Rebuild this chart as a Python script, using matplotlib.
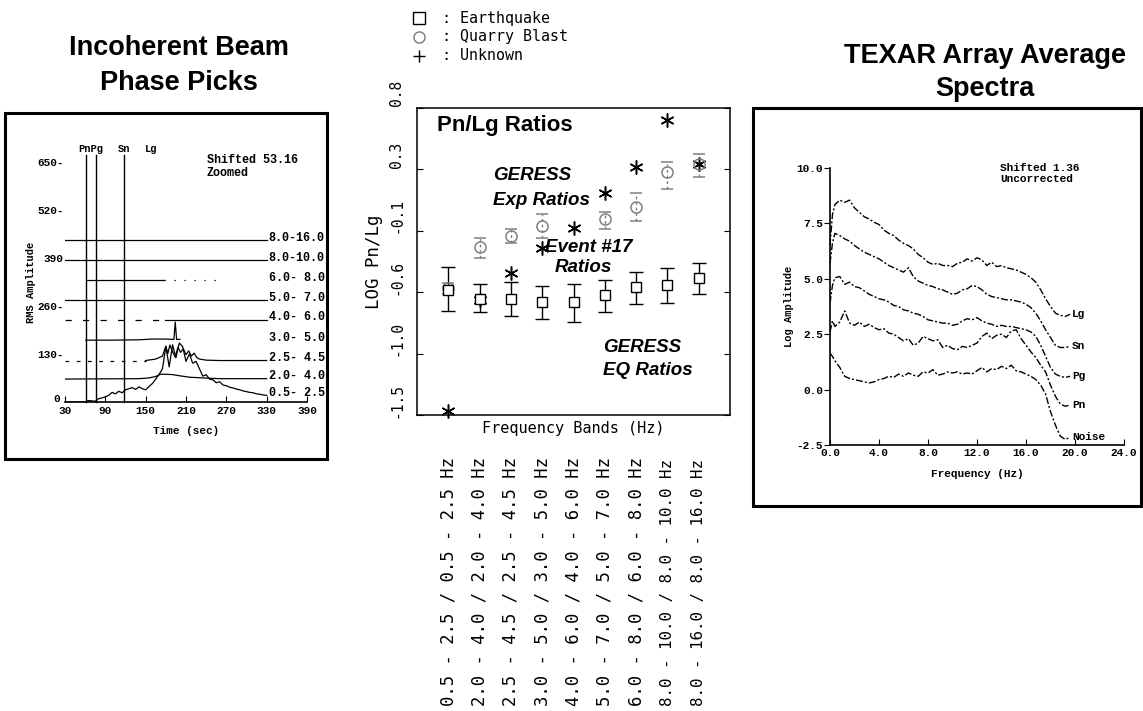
import matplotlib
matplotlib.use("Agg")
import matplotlib.pyplot as plt
from matplotlib.patches import Rectangle
from matplotlib.lines import Line2D
from matplotlib.transforms import ScaledTranslation, blended_transform_factory

# ---------------- data: left panel (incoherent beam) ----------------
SHIFT = 53.16
BAND_NAMES = ["0.5- 2.5", "2.0- 4.0", "2.5- 4.5", "3.0- 5.0", "4.0- 6.0",
              "5.0- 7.0", "6.0- 8.0", "8.0-10.0", "8.0-16.0"]
PICK_TIMES = [61, 76, 118]          # Pn, Pg, Sn
T_B05 = [30, 60, 65, 70, 75, 80, 85, 90, 95, 100,
         105, 110, 115, 120, 125, 130, 135, 140, 145, 150,
         155, 160, 165, 170, 175, 180, 185, 190, 195, 200,
         205, 210, 215, 220, 225, 230, 235, 240, 245, 250,
         255, 260, 265, 270, 275, 280, 285, 290, 295, 300,
         305, 310, 315, 320, 325, 330]
V_B05 = [0, 0, 4, 3, 2, 9, 11, 14, 18, 26,
         22, 29, 25, 33, 36, 39, 34, 41, 36, 33,
         42, 50, 62, 75, 90, 150, 95, 155, 120, 160,
         150, 110, 130, 105, 110, 90, 70, 74, 62, 60,
         52, 55, 46, 44, 40, 38, 35, 33, 30, 28,
         26, 25, 22, 21, 19, 18]
T_B20 = [30, 140, 155, 165, 172, 180, 190, 200, 215, 235, 260, 330]
V_B20 = [9, 10, 12, 16, 22, 22, 21, 18, 14, 12, 10, 10]
T_B25 = [150, 165, 175, 180, 183, 186, 190, 194, 198, 202,
         206, 210, 214, 218, 222, 226, 230, 240, 260, 330]
V_B25 = [6, 10, 18, 45, 25, 48, 30, 15, 42, 28,
         38, 22, 32, 18, 26, 14, 10, 7, 6, 6]
T_B30 = [61, 100, 140, 160, 180, 192, 194, 196, 201]
V_B30 = [8, 8, 9, 11, 11, 10, 57, 10, 10]
T_B40 = [179, 330]
V_B40 = [10, 10]
T_B50 = [30, 330]
V_B50 = [10, 10]
T_B60 = [61, 178]
V_B60 = [11, 11]
T_B80 = [30, 330]
V_B80 = [12, 12]
T_B816 = [30, 330]
V_B816 = [13, 13]

# ---------------- data: middle panel (Pn/Lg ratios) ----------------
BAND_POS = [1, 2, 3, 4, 5, 6, 7, 8, 9]
BAND_LABELS = ["0.5 - 2.5 / 0.5 - 2.5 Hz", "2.0 - 4.0 / 2.0 - 4.0 Hz",
               "2.5 - 4.5 / 2.5 - 4.5 Hz", "3.0 - 5.0 / 3.0 - 5.0 Hz",
               "4.0 - 6.0 / 4.0 - 6.0 Hz", "5.0 - 7.0 / 5.0 - 7.0 Hz",
               "6.0 - 8.0 / 6.0 - 8.0 Hz", "8.0 - 10.0 / 8.0 - 10.0 Hz",
               "8.0 - 16.0 / 8.0 - 16.0 Hz"]
EQ_MEAN = [-0.536, -0.598, -0.598, -0.623, -0.623, -0.573, -0.512, -0.499, -0.449]
EQ_LO = [-0.685, -0.697, -0.722, -0.747, -0.772, -0.697, -0.635, -0.630, -0.561]
EQ_HI = [-0.363, -0.487, -0.475, -0.507, -0.492, -0.462, -0.400, -0.371, -0.338]
QB_MEAN = [-0.52, -0.217, -0.14, -0.068, float("nan"), -0.017, 0.072, 0.33, 0.39]
QB_LO = [-0.56, -0.30, -0.19, -0.15, float("nan"), -0.09, -0.03, 0.21, 0.295]
QB_HI = [-0.48, -0.15, -0.09, 0.02, float("nan"), 0.035, 0.18, 0.406, 0.466]
EV17 = [-1.42, -0.61, -0.41, -0.225, -0.076, 0.18, 0.37, 0.71, 0.39]
Y_TICKS = [0.8, 0.35, -0.1, -0.55, -1.0, -1.45]
Y_TICKLABELS = ["0.8", "0.3", "-0.1", "-0.6", "-1.0", "-1.5"]

# ---------------- data: right panel (spectra) ----------------
FREQ = [0.0, 0.2, 0.4, 0.8, 1.2, 1.6, 2.0, 2.4, 2.8, 3.2,
        3.6, 4.0, 4.4, 4.8, 5.2, 5.6, 6.0, 6.4, 6.8, 7.2,
        7.6, 8.0, 8.4, 8.8, 9.2, 9.6, 10.0, 10.4, 10.8, 11.2,
        11.6, 12.0, 12.4, 12.8, 13.2, 13.6, 14.0, 14.4, 14.8, 15.2,
        15.6, 16.0, 16.4, 16.8, 17.2, 17.6, 18.0, 18.4, 18.8, 19.2,
        19.6]
LG = [6.5, 7.9, 8.35, 8.55, 8.45, 8.55, 8.2, 8.0, 7.8, 7.7,
      7.55, 7.45, 7.2, 7.05, 6.95, 6.75, 6.6, 6.5, 6.35, 6.1,
      5.95, 5.75, 5.65, 5.7, 5.6, 5.6, 5.55, 5.7, 5.75, 5.9,
      5.8, 5.95, 5.85, 5.6, 5.75, 5.55, 5.6, 5.5, 5.45, 5.4,
      5.3, 5.2, 5.05, 4.85, 4.5, 4.1, 3.75, 3.45, 3.35, 3.3,
      3.4]
SN = [5.7, 6.6, 7.05, 6.95, 6.8, 6.7, 6.5, 6.35, 6.2, 6.1,
      6.0, 5.9, 5.75, 5.6, 5.5, 5.4, 5.3, 5.5, 5.1, 4.9,
      4.8, 4.7, 4.65, 4.55, 4.5, 4.4, 4.3, 4.35, 4.5, 4.55,
      4.7, 4.65, 4.5, 4.3, 4.2, 4.15, 4.1, 4.05, 4.05, 4.0,
      3.95, 3.85, 3.7, 3.45, 3.1, 2.7, 2.35, 2.0, 1.9, 1.9,
      1.95]
PG = [3.9, 4.7, 5.05, 5.1, 4.75, 4.85, 4.65, 4.6, 4.45, 4.3,
      4.2, 4.1, 4.05, 3.95, 3.8, 3.75, 3.6, 3.55, 3.45, 3.4,
      3.3, 3.15, 3.1, 3.05, 3.0, 3.0, 2.9, 2.95, 3.1, 3.2,
      3.15, 3.25, 3.1, 3.0, 2.95, 2.85, 2.9, 2.85, 2.85, 2.8,
      2.75, 2.7, 2.6, 2.4, 2.0, 1.5, 1.0, 0.7, 0.6, 0.55,
      0.6]
PN = [2.6, 3.1, 2.85, 3.05, 3.55, 3.0, 2.9, 3.05, 2.85, 2.95,
      2.8, 2.7, 2.75, 2.55, 2.5, 2.35, 2.2, 2.3, 2.0, 2.1,
      2.4, 2.3, 2.2, 2.25, 1.9, 2.0, 1.85, 1.8, 1.95, 1.9,
      2.0, 2.1, 2.4, 2.55, 2.3, 2.45, 2.5, 2.35, 2.65, 2.7,
      2.3, 2.0, 1.7, 1.45, 1.1, 0.8, 0.2, -0.3, -0.65, -0.75,
      -0.7]
NOISE = [1.65, 1.5, 1.3, 1.0, 0.6, 0.5, 0.45, 0.4, 0.35, 0.3,
         0.35, 0.45, 0.5, 0.6, 0.55, 0.7, 0.6, 0.75, 0.65, 0.6,
         0.8, 0.75, 0.9, 0.65, 0.7, 0.8, 0.75, 0.8, 0.7, 0.75,
         0.7, 0.85, 1.0, 0.8, 0.95, 0.9, 1.05, 0.95, 1.1, 0.85,
         0.8, 0.7, 0.6, 0.45, 0.2, -0.2, -1.0, -1.6, -2.1, -2.25,
         -2.15]
SPEC_NAMES = ["Lg", "Sn", "Pg", "Pn", "Noise"]

# ---------------- figure ----------------
W, H = 1143, 711
fig = plt.figure(figsize=(W / 100, H / 100), dpi=100)


def fx(px):
    return px / W


def fy(py):
    return 1 - py / H


TYPE = dict(family="Liberation Mono", weight="bold")
PLOT = dict(family="DejaVu Sans Mono")
HEAD = dict(family="Liberation Sans", weight="bold")

# frames
for x0, y0, x1, y1 in [(5, 113, 327, 459), (753, 108, 1141, 506)]:
    fig.add_artist(Rectangle((fx(x0), fy(y1)), fx(x1) - fx(x0), fy(y0) - fy(y1),
                             transform=fig.transFigure, fill=False, lw=2.2,
                             ec="black"))

# titles
fig.text(fx(179), fy(48), "Incoherent Beam", ha="center", va="center", fontsize=19.5, **HEAD)
fig.text(fx(179), fy(83), "Phase Picks", ha="center", va="center", fontsize=19.5, **HEAD)
fig.text(fx(985), fy(56), "TEXAR Array Average", ha="center", va="center", fontsize=19.5, **HEAD)
fig.text(fx(985), fy(89), "Spectra", ha="center", va="center", fontsize=19.5, **HEAD)

# ---------------- left panel ----------------
axL = fig.add_axes([fx(65), fy(402), fx(307) - fx(65), fy(162) - fy(402)])
axL.set_xlim(30, 390)
axL.set_ylim(0, 650)
for s in ["top", "right", "left"]:
    axL.spines[s].set_visible(False)
axL.spines["bottom"].set_linewidth(1.2)
axL.set_xticks([30, 90, 150, 210, 270, 330, 390])
axL.set_xticklabels(["30", "90", "150", "210", "270", "330", "390"], fontsize=8, **TYPE)
axL.tick_params(axis="x", direction="in", length=4, pad=3)
axL.set_yticks([0, 130, 260, 390, 520, 650])
axL.set_yticklabels(["0", "130-", "260-", "390", "520-", "650-"], fontsize=8, **TYPE)
axL.tick_params(axis="y", length=0, pad=1)
zero_lab = axL.get_yticklabels()[0]
zero_lab.set_transform(zero_lab.get_transform() + ScaledTranslation(-0.04, 0.04, fig.dpi_scale_trans))
axL.set_xlabel("Time (sec)", fontsize=8, labelpad=7, **TYPE)
axL.set_ylabel("RMS Amplitude", fontsize=7.5, labelpad=1, **TYPE)

for t in PICK_TIMES:
    axL.plot([t, t], [0, 668], color="black", lw=1.0, clip_on=False)
axL.text(68, 672, "PnPg", ha="center", va="bottom", fontsize=7.5, clip_on=False, **TYPE)
axL.text(118, 672, "Sn", ha="center", va="bottom", fontsize=7.5, clip_on=False, **TYPE)
axL.text(158, 672, "Lg", ha="center", va="bottom", fontsize=7.5, clip_on=False, **TYPE)
axL.text(241, 638, "Shifted 53.16\nZoomed", ha="left", va="center", fontsize=8.5,
         linespacing=1.15, **TYPE)

solid_bands = [(T_B05, V_B05, 0), (T_B20, V_B20, 1), (T_B25, V_B25, 2), (T_B30, V_B30, 3),
               (T_B40, V_B40, 4), (T_B50, V_B50, 5), (T_B60, V_B60, 6), (T_B80, V_B80, 7),
               (T_B816, V_B816, 8)]
for ts, vs, k in solid_bands:
    axL.plot(ts, [v + k * SHIFT for v in vs], color="black", lw=0.9)
# sparse/dashed segments of some bands
axL.plot([30, 150], [6 + 2 * SHIFT] * 2, color="black", lw=0.9, ls=(0, (3, 6)))
axL.plot([30, 179], [10 + 4 * SHIFT] * 2, color="black", lw=0.9, ls=(0, (5, 9)))
axL.plot([178, 265], [11 + 6 * SHIFT] * 2, color="black", lw=0.9, ls=(0, (1, 7)))
label_vals = [V_B05[-1], V_B20[-1], V_B25[-1], V_B30[0], V_B40[-1], V_B50[-1], V_B60[0],
              V_B80[-1], V_B816[-1]]
for k, (name, v) in enumerate(zip(BAND_NAMES, label_vals)):
    axL.text(333, v + k * SHIFT + 7, name, ha="left", va="center", fontsize=8.5,
             clip_on=False, **TYPE)

# ---------------- middle panel ----------------
axM = fig.add_axes([fx(417), fy(415), fx(730) - fx(417), fy(108) - fy(415)])
axM.set_xlim(0, 10)
axM.set_ylim(-1.45, 0.8)
axM.set_xticks([])
axM.set_yticks(Y_TICKS)
axM.set_yticklabels(Y_TICKLABELS, rotation=90, va="center", fontsize=10.5, **PLOT)
axM.tick_params(axis="y", direction="in", length=4, left=True, right=True, pad=9)
for lab in axM.get_yticklabels():
    lab.set_transform(lab.get_transform() + ScaledTranslation(0, 0.15, fig.dpi_scale_trans))
for s in axM.spines.values():
    s.set_linewidth(1.1)
axM.set_ylabel("LOG Pn/Lg", fontsize=12.5, labelpad=5, **PLOT)
axM.set_xlabel("Frequency Bands (Hz)", fontsize=11, labelpad=4, **PLOT)

qerr = [[m - lo for m, lo in zip(QB_MEAN, QB_LO)], [hi - m for m, hi in zip(QB_MEAN, QB_HI)]]
eb = axM.errorbar(BAND_POS, QB_MEAN, yerr=qerr, fmt="o", ms=8, mfc="none", mec="#808080",
                  mew=1.1, ecolor="#808080", elinewidth=1.0, capsize=4.5, capthick=1.0)
for c in eb[2]:
    c.set_linestyle((0, (2, 2)))
eerr = [[m - lo for m, lo in zip(EQ_MEAN, EQ_LO)], [hi - m for m, hi in zip(EQ_MEAN, EQ_HI)]]
axM.errorbar(BAND_POS, EQ_MEAN, yerr=eerr, fmt="s", ms=7.5, mfc="white", mec="black",
             mew=1.0, ecolor="black", elinewidth=1.0, capsize=5, capthick=1.0)
axM.plot(BAND_POS, EV17, ls="none", marker=(6, 2, 0), ms=10, mew=1.1, color="black",
         clip_on=False)

tb = blended_transform_factory(axM.transData, fig.transFigure)
for p, lab in zip(BAND_POS, BAND_LABELS):
    axM.text(p, fy(706), lab, rotation=90, ha="center", va="bottom",
             fontsize=12.4 * 24 / len(lab), transform=tb, **PLOT)

BI = dict(family="Liberation Sans", weight="bold", style="italic")
fig.text(fx(437), fy(125), "Pn/Lg Ratios", ha="left", va="center", fontsize=16, **HEAD)
fig.text(fx(493), fy(175), "GERESS", ha="left", va="center", fontsize=13.5, **BI)
fig.text(fx(493), fy(200), "Exp Ratios", ha="left", va="center", fontsize=13.5, **BI)
fig.text(fx(545), fy(247), "Event #17", ha="left", va="center", fontsize=13.5, **BI)
fig.text(fx(555), fy(268), "Ratios", ha="left", va="center", fontsize=13.5, **BI)
fig.text(fx(603), fy(347), "GERESS", ha="left", va="center", fontsize=13.5, **BI)
fig.text(fx(603), fy(370), "EQ Ratios", ha="left", va="center", fontsize=13.5, **BI)

# legend (top)
leg_rows = [(18, "s", "black", "Earthquake"), (37, "o", "#777777", "Quarry Blast"),
            (56, "+", "black", "Unknown")]
for y, mk, col, name in leg_rows:
    fig.add_artist(Line2D([fx(419)], [fy(y)], transform=fig.transFigure, marker=mk,
                          ms=8, mfc="none", mec=col, mew=1.0, ls="none"))
    fig.text(fx(442), fy(y), ": " + name, ha="left", va="center", fontsize=10.8, **PLOT)

# ---------------- right panel ----------------
axR = fig.add_axes([fx(830), fy(445), fx(1124) - fx(830), fy(168) - fy(445)])
axR.set_xlim(0, 24)
axR.set_ylim(-2.5, 10)
axR.spines["top"].set_visible(False)
axR.spines["right"].set_visible(False)
axR.spines["left"].set_linewidth(1.2)
axR.spines["bottom"].set_linewidth(1.2)
axR.set_xticks([0, 4, 8, 12, 16, 20, 24])
axR.set_xticklabels(["0.0", "4.0", "8.0", "12.0", "16.0", "20.0", "24.0"], fontsize=8, **TYPE)
axR.tick_params(axis="x", direction="in", length=4, pad=2)
axR.set_yticks([-2.5, 0, 2.5, 5, 7.5, 10])
axR.set_yticklabels(["-2.5", "0.0", "2.5", "5.0", "7.5", "10.0"], fontsize=8, **TYPE)
axR.tick_params(axis="y", direction="out", length=4, pad=1)
axR.set_xlabel("Frequency (Hz)", fontsize=8, labelpad=8, **TYPE)
axR.set_ylabel("Log Amplitude", fontsize=7.5, labelpad=2, **TYPE)
for vals, name in zip([LG, SN, PG, PN, NOISE], SPEC_NAMES):
    axR.plot(FREQ, vals, color="black", lw=1.0, ls=(0, (5, 1.5, 1.5, 1.5)))
    axR.text(FREQ[-1] + 0.15, vals[-1], name, ha="left", va="center", fontsize=8,
             clip_on=False, **TYPE)
axR.text(13.9, 9.75, "Shifted 1.36\nUncorrected", ha="left", va="center", fontsize=8,
         linespacing=1.15, **TYPE)

fig.savefig("out.png", dpi=100)
